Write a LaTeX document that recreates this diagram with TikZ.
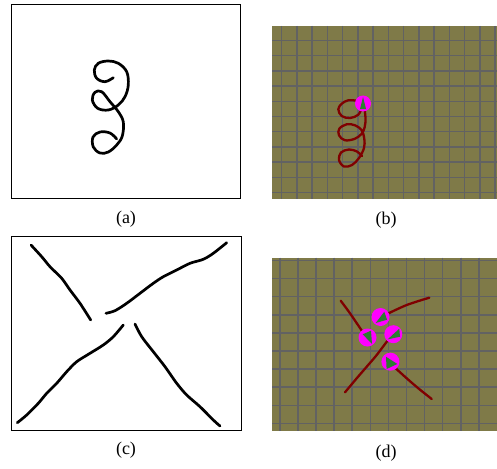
\documentclass[tikz,border=0pt]{standalone}
\usepackage{fontspec}
\setmainfont{Liberation Serif}
\usepackage{xcolor}
\usetikzlibrary{calc}
\definecolor{FieldOlive}{RGB}{127,122,72}
\definecolor{GridGray}{RGB}{98,98,98}
\definecolor{TrackRed}{RGB}{128,0,0}
\definecolor{PoseMagenta}{RGB}{255,0,255}
\definecolor{PoseGreen}{RGB}{46,125,50}

\tikzset{
  frame/.style={draw=black, line width=0.8pt},
  sketch/.style={black, line width=2.7pt, line cap=round, line join=round},
  track/.style={TrackRed, line width=2.3pt, line cap=round, line join=round},
  gridline/.style={GridGray, line width=1.5pt},
  caption/.style={font=\fontsize{18}{20}\selectfont, inner sep=0pt},
}

\begin{document}
\begin{tikzpicture}[x=1pt,y=-1pt]
  \path[use as bounding box] (0,0) rectangle (497,468);
  \fill[white] (0,0) rectangle (497,468);

  % (a) Sketched loops
  \draw[frame] (11,4) rectangle (240.5,198);
  \draw[sketch] plot[smooth, tension=0.6] coordinates {
    (113.3,77.7) (105,81.7) (96.7,78.3) (94.3,70) (98.3,63.3) (108.3,61)
    (118.3,63.3) (126.7,71.7) (128.3,85) (125,96.7) (118.3,105) (108.3,110)
    (97.7,108.3) (92.3,100) (95,92.3) (101.7,91.7) (110,101.7) (118.3,111.7)
    (123.3,122) (122.3,136) (116.7,145) (108.3,152) (100,153) (93.3,147)
    (93,137) (100,132) (110,133) (116.7,139)};
  \node[caption] (capa) at (126,219) {(a)};

  % (b) Field with tracked loops
  \fill[FieldOlive] (272,26) rectangle (497,199);
  \foreach \gx in {0,...,14}
    \draw[gridline] ({281.7+15.25*\gx},26) -- ++(0,173);
  \foreach \gy in {0,...,10}
    \draw[gridline] (272,{40.5+15.2*\gy}) -- (497,{40.5+15.2*\gy});
  \draw[track] plot[smooth, tension=0.6] coordinates {
    (363,103.5) (356.7,100.8) (348.3,100.3) (341.7,103.7) (338.3,109.3)
    (341.7,116) (350,118) (358.3,114.7) (362,107)};
  \draw[track] plot[smooth, tension=0.6] coordinates {
    (364,105) (365.5,118) (364.7,127) (361.7,133.7) (355,138.7) (345,140.3)
    (339,135.3) (339.3,128.7) (346.7,124.3) (355,125.3) (361.7,130.3)
    (364.3,138.7) (364,148) (359,158) (352,165) (344,166.5) (339,160)
    (341,152.5) (349,149.5) (357,151.5) (362,156)};
  \node[circle, fill=PoseMagenta, minimum size=16pt, inner sep=0pt] (poseb) at (363,103.5) {};
  \fill[PoseGreen] ($(poseb)+(0,-6.5)$) -- ($(poseb)+(-3,5.5)$) -- ($(poseb)+(3,5.5)$) -- cycle;
  \node[caption] (capb) at (386,220) {(b)};

  % (c) Sketched crossing
  \draw[frame] (11,236) rectangle (241.5,430);
  \draw[sketch] plot[smooth, tension=0.5] coordinates {
    (31,245) (41.7,256.7) (50,266.7) (61.7,278.3) (70,290) (80,303.3) (90.7,320)};
  \draw[sketch] plot[smooth, tension=0.5] coordinates {
    (106,313.3) (115,310.7) (126.7,303.3) (140,293.3) (153.3,283.3) (163.3,276.7)
    (176.7,270) (190,263.3) (203.3,259.3) (213.3,253.3) (226.7,242.7)};
  \draw[sketch] plot[smooth, tension=0.5] coordinates {
    (123.3,325) (113.3,336.7) (103.3,345) (90,353.3) (76.7,361.7) (66.7,371.7)
    (56.7,383.3) (46.7,393.3) (38.3,403.3) (26.7,415) (17.3,422.7)};
  \draw[sketch] plot[smooth, tension=0.5] coordinates {
    (135,324) (141.7,336.7) (153.3,351.7) (165,366.7) (176.7,383.3)
    (186.7,395) (200,406.7) (213.3,420) (220,426)};
  \node[caption] (capc) at (126,450) {(c)};

  % (d) Field with tracked crossing
  \fill[FieldOlive] (272,257.5) rectangle (497,431);
  \foreach \gx in {0,...,11}
    \draw[gridline] ({279.8+18.1*\gx},257.5) -- ++(0,173.5);
  \foreach \gy in {0,...,9}
    \draw[gridline] (272,{260.5+18.1*\gy}) -- (497,{260.5+18.1*\gy});
  \draw[track] plot[smooth] coordinates {(340.7,300.7) (350,313.3) (362,331)};
  \draw[track] plot[smooth] coordinates {(385,315) (406.7,305) (429.3,297.7)};
  \draw[track] plot[smooth] coordinates {(388,340) (376.7,355) (366.7,366.7) (356.7,378.3) (345,392.3)};
  \draw[track] plot[smooth] coordinates {(392,365) (406.7,378.3) (418.3,388.3) (431.7,399)};
  \foreach \pn/\cx/\cy/\ax/\ay/\bx/\by/\qx/\qy in {
    1/380.5/317/-4.8/6/3.8/-5.3/6.5/2.7,
    2/367.5/337.5/-4.8/-3.2/3.5/-6.8/4.5/6.5,
    3/393.3/334.2/6/-5.5/6.7/2.5/-5.7/5.2,
    4/390.4/361.7/-4.4/-5/-3.8/7.3/6.9/2.3}{
    \node[circle, fill=PoseMagenta, minimum size=18pt, inner sep=0pt] (posed\pn) at (\cx,\cy) {};
    \fill[PoseGreen] ($(posed\pn)+(\ax,\ay)$) -- ($(posed\pn)+(\bx,\by)$) -- ($(posed\pn)+(\qx,\qy)$) -- cycle;
  }
  \node[caption] (capd) at (386,453) {(d)};
\end{tikzpicture}
\end{document}
